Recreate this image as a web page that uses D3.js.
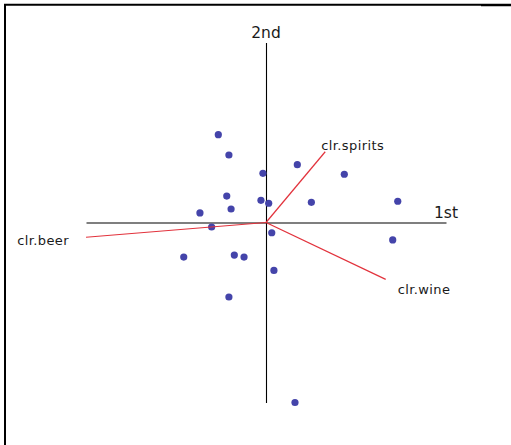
<!DOCTYPE html>
<html>
<head>
<meta charset="utf-8">
<script src="https://cdn.jsdelivr.net/npm/d3@7"></script>
<style>
  html, body { margin: 0; padding: 0; background: #fff; }
  svg { display: block; }
  text { font-family: "DejaVu Sans", sans-serif; fill: #1a1a1a; }
</style>
</head>
<body>
<script>
// Observation scores on the first two components
const scoreX = [-0.265, -0.206, 0.174, 0.435, -0.017, -0.218, -0.028, 0.015, 0.252, -0.194,
                -0.367, -0.302, 0.032, -0.457, -0.176, -0.122, 0.044, 0.732, 0.704, -0.206, 0.161];
const scoreY = [0.488, 0.375, 0.321, 0.268, 0.273, 0.147, 0.123, 0.107, 0.112, 0.075,
                0.053, -0.025, -0.057, -0.192, -0.181, -0.192, -0.266, 0.118, -0.097, -0.414, -1.0];

// Variable loadings (clr-transformed parts)
const varNames = ["clr.spirits", "clr.beer", "clr.wine"];
const loadX = [0.329, -1.0, 0.665];
const loadY = [0.393, -0.082, -0.316];

// Axis titles
const axisTitles = ["1st", "2nd"];

const W = 511, H = 445;
const svg = d3.select("body").append("svg").attr("width", W).attr("height", H);

// Frame
svg.append("path").attr("d", "M5,445 V4.75 H481").attr("fill", "none")
  .attr("stroke", "#000").attr("stroke-width", 2);
svg.append("line").attr("x1", 481).attr("x2", 511).attr("y1", 5).attr("y2", 5)
  .attr("stroke", "#000").attr("stroke-width", 2.5);

const x = d3.scaleLinear().domain([-1, 1]).range([86, 446]);
const y = d3.scaleLinear().domain([-1, 1]).range([402.5, 42.5]);

// Axes through the origin, no ticks
const gx = svg.append("g").attr("transform", `translate(0,${y(0)})`)
  .call(d3.axisBottom(x).ticks(0).tickSizeOuter(0));
gx.select(".domain").attr("stroke", "#555").attr("stroke-width", 1.4);

const gy = svg.append("g").attr("transform", `translate(${x(0)},0)`)
  .call(d3.axisLeft(y).ticks(0).tickSizeOuter(0));
gy.select(".domain").attr("stroke", "#000").attr("stroke-width", 1.1);

svg.append("text").attr("x", x(1)).attr("y", y(0) - 4.5)
  .attr("text-anchor", "middle").attr("font-size", 15.5).text(axisTitles[0]);
svg.append("text").attr("x", x(0)).attr("y", y(1) - 4.5)
  .attr("text-anchor", "middle").attr("font-size", 15.5).text(axisTitles[1]);

// Scores
svg.append("g").selectAll("circle").data(d3.range(scoreX.length)).join("circle")
  .attr("cx", i => x(scoreX[i]))
  .attr("cy", i => y(scoreY[i]))
  .attr("r", 3.6)
  .attr("fill", "#4444aa");

// Loading vectors
svg.append("g").selectAll("line").data(d3.range(varNames.length)).join("line")
  .attr("x1", x(0)).attr("y1", y(0))
  .attr("x2", i => x(loadX[i])).attr("y2", i => y(loadY[i]))
  .attr("stroke", "#e2323c").attr("stroke-width", 1.2);

// Loading labels, placed relative to each vector tip
const labelOffset = [[-4, -1.5, "start"], [-17, 8, "end"], [12, 14.5, "start"]];
svg.append("g").selectAll("text").data(d3.range(varNames.length)).join("text")
  .attr("x", i => x(loadX[i]) + labelOffset[i][0])
  .attr("y", i => y(loadY[i]) + labelOffset[i][1])
  .attr("text-anchor", i => labelOffset[i][2])
  .attr("font-size", 13)
  .attr("letter-spacing", 0.4)
  .text(i => varNames[i]);
</script>
</body>
</html>
